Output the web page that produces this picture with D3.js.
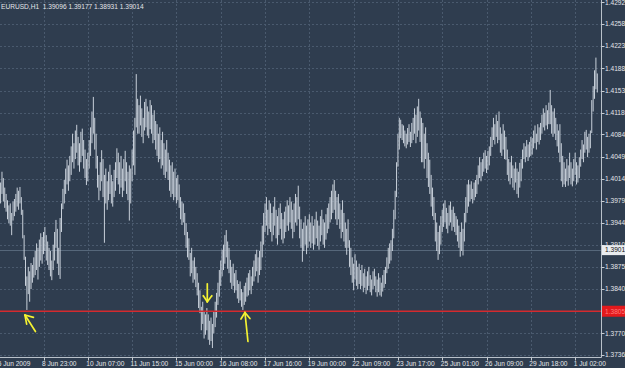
<!DOCTYPE html>
<html><head><meta charset="utf-8">
<script src="https://cdn.jsdelivr.net/npm/d3@7"></script>
<style>html,body{margin:0;padding:0;background:#2f3d4f;overflow:hidden}</style>
</head><body>
<svg id="c" width="625" height="368"></svg>
<script>
const titleText = "EURUSD,H1  1.39096 1.39177 1.38931 1.39014";

const highs = [
1.4020,1.4008,1.4025,1.4015,1.4000,1.3990,1.3980,1.3972,1.3975,1.3960,
1.3978,1.3982,1.3990,1.4000,1.3995,1.4001,1.3985,1.3965,1.3925,1.3891,
1.3860,1.3875,1.3868,1.3881,1.3878,1.3890,1.3900,1.3912,1.3905,1.3918,
1.3928,1.3922,1.3930,1.3938,1.3925,1.3915,1.3905,1.3900,1.3885,1.3910,
1.3930,1.3949,1.3935,1.3905,1.3952,1.3975,1.3998,1.4012,1.4030,1.4044,
1.4035,1.4050,1.4065,1.4085,1.4070,1.4090,1.4099,1.4080,1.4070,1.4088,
1.4093,1.4075,1.4060,1.4045,1.4055,1.4075,1.4095,1.4120,1.4143,1.4110,
1.4085,1.4050,1.4020,1.4040,1.4059,1.4045,1.4020,1.4030,1.4010,1.4025,
1.4036,1.4020,1.4010,1.4028,1.4040,1.4062,1.4055,1.4040,1.4050,1.4030,
1.4045,1.4058,1.4040,1.4025,1.4035,1.4030,1.4060,1.4090,1.4110,1.4179,
1.4140,1.4130,1.4145,1.4125,1.4110,1.4135,1.4140,1.4128,1.4120,1.4138,
1.4130,1.4115,1.4122,1.4105,1.4100,1.4085,1.4095,1.4075,1.4088,1.4070,
1.4060,1.4075,1.4055,1.4044,1.4035,1.4040,1.4025,1.4030,1.4015,1.4020,
1.4005,1.3985,1.3978,1.3975,1.3960,1.3944,1.3930,1.3920,1.3897,1.3905,
1.3885,1.3890,1.3875,1.3865,1.3850,1.3838,1.3812,1.3820,1.3805,1.3800,
1.3810,1.3800,1.3790,1.3795,1.3785,1.3805,1.3820,1.3834,1.3850,1.3870,
1.3885,1.3902,1.3910,1.3925,1.3933,1.3915,1.3905,1.3886,1.3875,1.3880,
1.3865,1.3870,1.3854,1.3848,1.3852,1.3840,1.3835,1.3845,1.3850,1.3858,
1.3865,1.3870,1.3860,1.3875,1.3885,1.3895,1.3902,1.3890,1.3900,1.3915,
1.3940,1.3960,1.3975,1.3985,1.3965,1.3980,1.3975,1.3960,1.3970,1.3985,
1.3965,1.3955,1.3968,1.3975,1.3960,1.3950,1.3962,1.3970,1.3980,1.3972,
1.3985,1.3978,1.3965,1.3975,1.3990,1.3985,1.4003,1.3970,1.3950,1.3935,
1.3945,1.3955,1.3940,1.3950,1.3958,1.3945,1.3955,1.3940,1.3950,1.3962,
1.3948,1.3940,1.3955,1.3965,1.3950,1.3945,1.3958,1.3968,1.3975,1.3985,
1.3995,1.4005,1.4012,1.3995,1.3985,1.3990,1.3975,1.3965,1.3980,1.3960,
1.3945,1.3935,1.3950,1.3917,1.3905,1.3890,1.3880,1.3895,1.3885,1.3875,
1.3880,1.3870,1.3878,1.3865,1.3872,1.3860,1.3868,1.3875,1.3862,1.3855,
1.3868,1.3872,1.3860,1.3855,1.3865,1.3858,1.3850,1.3862,1.3870,1.3875,
1.3890,1.3905,1.3912,1.3917,1.3935,1.3965,1.3995,1.4040,1.4085,1.4110,
1.4107,1.4100,1.4098,1.4090,1.4085,1.4094,1.4100,1.4088,1.4102,1.4110,
1.4125,1.4115,1.4128,1.4140,1.4120,1.4110,1.4102,1.4085,1.4095,1.4070,
1.4055,1.4044,1.4020,1.4000,1.3985,1.3960,1.3945,1.3930,1.3940,1.3955,
1.3965,1.3975,1.3980,1.3968,1.3960,1.3972,1.3978,1.3965,1.3970,1.3960,
1.3955,1.3950,1.3940,1.3930,1.3945,1.3935,1.3960,1.3985,1.4005,1.4012,
1.4005,1.4010,1.3998,1.4008,1.4012,1.4020,1.4035,1.4048,1.4040,1.4045,
1.4055,1.4059,1.4050,1.4058,1.4065,1.4080,1.4095,1.4110,1.4100,1.4115,
1.4105,1.4120,1.4095,1.4085,1.4100,1.4090,1.4080,1.4060,1.4045,1.4040,
1.4050,1.4035,1.4030,1.4040,1.4030,1.4025,1.4039,1.4045,1.4060,1.4070,
1.4065,1.4075,1.4068,1.4072,1.4080,1.4078,1.4090,1.4098,1.4085,1.4100,
1.4095,1.4102,1.4115,1.4125,1.4118,1.4130,1.4122,1.4134,1.4154,1.4130,
1.4120,1.4125,1.4110,1.4100,1.4090,1.4100,1.4070,1.4050,1.4040,1.4030,
1.4045,1.4035,1.4055,1.4040,1.4030,1.4045,1.4055,1.4040,1.4035,1.4048,
1.4060,1.4075,1.4068,1.4088,1.4091,1.4080,1.4085,1.4090,1.4138,1.4160,
1.4185,1.4205,1.4180
];

const lows = [
1.3985,1.3975,1.3990,1.3978,1.3968,1.3962,1.3950,1.3944,1.3940,1.3925,
1.3948,1.3955,1.3962,1.3970,1.3965,1.3975,1.3957,1.3920,1.3886,1.3845,
1.3807,1.3832,1.3820,1.3840,1.3850,1.3858,1.3862,1.3870,1.3855,1.3875,
1.3885,1.3880,1.3895,1.3900,1.3885,1.3878,1.3870,1.3860,1.3854,1.3870,
1.3885,1.3905,1.3880,1.3862,1.3856,1.3930,1.3966,1.3975,1.3990,1.4005,
1.3995,1.4010,1.4020,1.4040,1.4030,1.4045,1.4055,1.4035,1.4025,1.4040,
1.4050,1.4030,1.4015,1.4004,1.4010,1.4030,1.4050,1.4070,1.4085,1.4060,
1.4030,1.4000,1.3980,1.3995,1.4010,1.3985,1.3913,1.3975,1.3965,1.3980,
1.3990,1.3975,1.3970,1.3985,1.3995,1.4015,1.4005,1.3990,1.4000,1.3985,
1.3995,1.4010,1.3990,1.3980,1.3948,1.3975,1.4010,1.4035,1.4020,1.4095,
1.4085,1.4085,1.4098,1.4080,1.4070,1.4090,1.4095,1.4082,1.4078,1.4092,
1.4085,1.4070,1.4075,1.4060,1.4050,1.4040,1.4045,1.4030,1.4035,1.4020,
1.4015,1.4025,1.4012,1.3995,1.3985,1.3990,1.3980,1.3985,1.3975,1.3980,
1.3968,1.3950,1.3941,1.3945,1.3925,1.3905,1.3890,1.3886,1.3860,1.3865,
1.3850,1.3855,1.3843,1.3830,1.3810,1.3802,1.3775,1.3785,1.3762,1.3768,
1.3775,1.3760,1.3752,1.3758,1.3747,1.3770,1.3780,1.3795,1.3815,1.3828,
1.3845,1.3860,1.3870,1.3880,1.3890,1.3872,1.3865,1.3850,1.3840,1.3845,
1.3834,1.3838,1.3825,1.3818,1.3822,1.3812,1.3807,1.3815,1.3820,1.3828,
1.3830,1.3838,1.3832,1.3845,1.3852,1.3860,1.3868,1.3850,1.3862,1.3870,
1.3890,1.3910,1.3930,1.3940,1.3925,1.3935,1.3930,1.3915,1.3925,1.3940,
1.3920,1.3910,1.3925,1.3935,1.3918,1.3912,1.3920,1.3930,1.3940,1.3932,
1.3945,1.3935,1.3920,1.3930,1.3945,1.3940,1.3950,1.3920,1.3905,1.3883,
1.3900,1.3910,1.3895,1.3905,1.3915,1.3905,1.3912,1.3902,1.3910,1.3920,
1.3908,1.3902,1.3915,1.3925,1.3910,1.3905,1.3918,1.3928,1.3935,1.3945,
1.3950,1.3960,1.3965,1.3950,1.3941,1.3950,1.3935,1.3920,1.3930,1.3915,
1.3905,1.3894,1.3905,1.3875,1.3862,1.3850,1.3838,1.3855,1.3845,1.3840,
1.3848,1.3840,1.3845,1.3835,1.3842,1.3832,1.3838,1.3845,1.3835,1.3830,
1.3840,1.3845,1.3835,1.3828,1.3835,1.3830,1.3828,1.3836,1.3842,1.3848,
1.3865,1.3872,1.3880,1.3885,1.3900,1.3920,1.3950,1.3985,1.4033,1.4060,
1.4078,1.4075,1.4070,1.4065,1.4062,1.4068,1.4072,1.4064,1.4070,1.4075,
1.4085,1.4070,1.4080,1.4090,1.4072,1.4040,1.4040,1.4030,1.4045,1.4015,
1.4001,1.3990,1.3970,1.3955,1.3949,1.3915,1.3900,1.3886,1.3895,1.3910,
1.3930,1.3938,1.3945,1.3935,1.3928,1.3940,1.3945,1.3932,1.3938,1.3930,
1.3925,1.3915,1.3905,1.3891,1.3900,1.3893,1.3915,1.3945,1.3960,1.3970,
1.3978,1.3982,1.3975,1.3980,1.3985,1.3990,1.4005,1.4015,1.4010,1.4018,
1.4025,1.4030,1.4023,1.4028,1.4035,1.4050,1.4064,1.4075,1.4068,1.4080,
1.4070,1.4075,1.4055,1.4050,1.4060,1.4045,1.4044,1.4020,1.4010,1.4005,
1.4015,1.4000,1.3996,1.4008,1.3990,1.3984,1.4000,1.4010,1.4030,1.4045,
1.4040,1.4048,1.4042,1.4048,1.4050,1.4052,1.4062,1.4070,1.4060,1.4072,
1.4068,1.4075,1.4085,1.4095,1.4090,1.4098,1.4092,1.4100,1.4100,1.4085,
1.4080,1.4085,1.4075,1.4065,1.4055,1.4040,1.4010,1.4001,1.4005,1.4001,
1.4010,1.4003,1.4015,1.4005,1.4002,1.4010,1.4020,1.4005,1.4008,1.4015,
1.4033,1.4045,1.4040,1.4055,1.4060,1.4048,1.4055,1.4062,1.4086,1.4120,
1.4140,1.4155,1.4150
];

const timeLabels = ["5 Jun 2009","8 Jun 23:00","10 Jun 07:00","11 Jun 15:00","15 Jun 00:00","16 Jun 08:00","17 Jun 16:00","19 Jun 00:00","22 Jun 09:00","23 Jun 17:00","25 Jun 01:00","26 Jun 09:00","29 Jun 18:00","1 Jul 02:00"];
const timeLabelBars = [0,32,64,96,128,160,192,224,256,288,320,352,384,416];

const priceTicks = [1.3736,1.3770,1.3805,1.3840,1.3875,1.3910,1.3944,1.3979,1.4014,1.4049,1.4084,1.4118,1.4153,1.4188,1.4223,1.4258,1.4292];
const priceTickLabels = ["1.37360","1.37700","1.38050","1.38400","1.38750","1.39100","1.39440","1.39790","1.40140","1.40490","1.40840","1.41180","1.41530","1.41880","1.42230","1.42580","1.42920"];

const levelPrice = 1.3805, levelLabel = "1.38050";
const bidPrice = 1.39014, bidLabel = "1.39014";

// hand-drawn arrows: anchor bar index and price of the arrow tip
const arrowBars = [18.6, 150.3, 177.5];
const arrowPrices = [1.3799, 1.3820, 1.3803];
const arrowKinds = ["upleft", "down", "up"];

const svg = d3.select("#c");
const W = 625, H = 368, plotRight = 601.5, plotBottom = 357.5;
const font = "'Liberation Sans', Arial, sans-serif";

const x = d3.scaleLinear().domain([0, highs.length - 1]).range([-0.8, 597.3]);
const y = d3.scaleLinear().domain([1.3736, 1.4258]).range([355, 24]);

svg.append("rect").attr("width", W).attr("height", H).attr("fill", "#2f3d4f");

// grid
const grid = svg.append("g").attr("stroke", "#4a5a6e").attr("stroke-dasharray", "2,2").attr("stroke-width", 1);
grid.selectAll("line.h").data(priceTicks).join("line")
  .attr("x1", 0).attr("x2", plotRight)
  .attr("y1", d => Math.round(y(d)) + 0.5).attr("y2", d => Math.round(y(d)) + 0.5);
grid.selectAll("line.v").data(timeLabelBars.slice(1)).join("line")
  .attr("x1", d => Math.round(x(d)) + 0.5).attr("x2", d => Math.round(x(d)) + 0.5)
  .attr("y1", 0).attr("y2", plotBottom);

// bid line
svg.append("line").attr("x1", 0).attr("x2", plotRight)
  .attr("y1", Math.round(y(bidPrice)) + 0.5).attr("y2", Math.round(y(bidPrice)) + 0.5)
  .attr("stroke", "#56677a").attr("stroke-width", 1);

// bars
svg.append("g").selectAll("line").data(highs).join("line")
  .attr("x1", (d, i) => x(i)).attr("x2", (d, i) => x(i))
  .attr("y1", d => y(d)).attr("y2", (d, i) => y(lows[i]))
  .attr("stroke", "#c8d0da").attr("stroke-width", 1);

// red level line
svg.append("line").attr("x1", 0).attr("x2", plotRight)
  .attr("y1", y(levelPrice)).attr("y2", y(levelPrice))
  .attr("stroke", "#d42a2e").attr("stroke-width", 1.3);

// axes
svg.append("line").attr("x1", plotRight).attr("x2", plotRight).attr("y1", 0).attr("y2", plotBottom)
  .attr("stroke", "#b9c1ca").attr("stroke-width", 1);
svg.append("line").attr("x1", 0).attr("x2", plotRight).attr("y1", plotBottom).attr("y2", plotBottom)
  .attr("stroke", "#b9c1ca").attr("stroke-width", 1);

// y ticks + labels
const yg = svg.append("g");
yg.selectAll("line").data(priceTicks).join("line")
  .attr("x1", plotRight).attr("x2", plotRight + 3)
  .attr("y1", d => Math.round(y(d)) + 0.5).attr("y2", d => Math.round(y(d)) + 0.5)
  .attr("stroke", "#c8cdd2");
yg.selectAll("text").data(priceTicks).join("text")
  .attr("x", plotRight + 3.5).attr("y", d => y(d) + 2.3)
  .attr("font-family", font).attr("font-size", "6.6px").attr("fill", "#e4e6ea")
  .text((d, i) => priceTickLabels[i]);

// x ticks + labels
const xg = svg.append("g");
xg.selectAll("line").data(timeLabelBars).join("line")
  .attr("x1", d => Math.round(x(d)) + 0.5).attr("x2", d => Math.round(x(d)) + 0.5)
  .attr("y1", plotBottom).attr("y2", plotBottom + 3)
  .attr("stroke", "#c8cdd2");
xg.selectAll("text").data(timeLabelBars).join("text")
  .attr("x", d => x(d) - 1.5).attr("y", 366)
  .attr("font-family", font).attr("font-size", "6.6px").attr("fill", "#e4e6ea")
  .text((d, i) => timeLabels[i]);

// bid price box
const by = y(bidPrice);
svg.append("rect").attr("x", plotRight + 0.5).attr("y", by - 5).attr("width", 24).attr("height", 10)
  .attr("fill", "#e9ecef");
svg.append("text").attr("x", plotRight + 3.5).attr("y", by + 2.3)
  .attr("font-family", font).attr("font-size", "6.6px").attr("fill", "#111").text(bidLabel);

// level price box
const ly = y(levelPrice);
svg.append("rect").attr("x", plotRight + 0.5).attr("y", ly - 5.5).attr("width", 24).attr("height", 11)
  .attr("fill", "#e3191c");
svg.append("text").attr("x", plotRight + 3.5).attr("y", ly + 2.3)
  .attr("font-family", font).attr("font-size", "6.6px").attr("fill", "#ff7b7b").text(levelLabel);

// title
svg.append("text").attr("x", 1).attr("y", 8.5)
  .attr("font-family", font).attr("font-size", "6.6px").attr("fill", "#e4e6ea")
  .attr("xml:space", "preserve").style("white-space", "pre").text(titleText);

// arrows
const arrowShapes = {
  upleft: [[[10.5, 16.5], [0, 0]], [[0, 0], [8.5, 2.3]], [[0, 0], [1.7, 9]]],
  down: [[[0, -18], [0, 0]], [[-4, -6], [0, 0]], [[0, 0], [4.5, -6]]],
  up: [[[3, 29], [0, 0]], [[-4, 6.5], [0, 0]], [[0, 0], [5, 6]]]
};
const ag = svg.append("g").attr("stroke", "#f4f232").attr("stroke-width", 1.7).attr("stroke-linecap", "round").attr("fill", "none");
arrowBars.forEach((b, k) => {
  const tx = x(b), ty = y(arrowPrices[k]);
  arrowShapes[arrowKinds[k]].forEach(seg => {
    ag.append("line").attr("x1", tx + seg[0][0]).attr("y1", ty + seg[0][1])
      .attr("x2", tx + seg[1][0]).attr("y2", ty + seg[1][1]);
  });
});
</script>
</body></html>
